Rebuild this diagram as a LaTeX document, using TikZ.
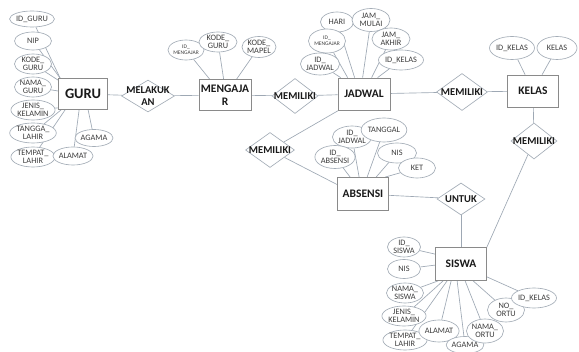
\documentclass[tikz,border=0pt]{standalone}
\usepackage{fontspec}
\setmainfont{Carlito}
\usetikzlibrary{shapes.geometric,calc}
\pgfdeclarelayer{paper}
\pgfdeclarelayer{links}
\pgfsetlayers{paper,links,main}

\definecolor{linkgray}{HTML}{9EA8B4}
\definecolor{ovalgray}{HTML}{A4ADB7}
\definecolor{boxgray}{HTML}{8A8A8A}
\definecolor{ink}{HTML}{1A1A1A}

\tikzset{
  entity/.style={draw=boxgray, fill=white, line width=0.75pt, minimum width=51pt,
    minimum height=32pt, inner sep=0pt, align=center, text=ink,
    font=\bfseries\fontsize{11.5}{13}\selectfont},
  relation/.style={diamond, draw=ovalgray, fill=white, line width=0.65pt,
    minimum width=48pt, minimum height=34pt, inner sep=0pt},
  rellabel/.style={text=ink, align=center, font=\bfseries\fontsize{10.5}{12.5}\selectfont},
  attr/.style={ellipse, draw=ovalgray, fill=white, line width=0.65pt,
    minimum width=37pt, minimum height=20pt, inner sep=0pt, align=center,
    text=ink!85, font=\fontsize{8.3}{8.4}\selectfont},
  tiny/.style={font=\fontsize{5.5}{6.5}\selectfont},
  link/.style={draw=linkgray, line width=0.65pt},
}

\begin{document}
\begin{tikzpicture}[x=1pt, y=-1pt]
\begin{pgfonlayer}{paper}
  \fill[white] (0,0) rectangle (579,352);
\end{pgfonlayer}
\useasboundingbox (0,0) rectangle (579,352);

% ---------- entities ----------
\node[entity, minimum width=49pt, minimum height=31pt, font=\bfseries\fontsize{14.5}{16}\selectfont] (guru) at (83,94) {GURU};
\node[entity, minimum width=52pt, minimum height=31pt] (mengajar) at (225,95) {MENGAJA\\R};
\node[entity, minimum width=52pt] (jadwal) at (364,94) {JADWAL};
\node[entity] (kelas) at (533,91) {KELAS};
\node[entity, minimum height=33pt] (absensi) at (363,194) {ABSENSI};
\node[entity, minimum height=33pt] (siswa) at (461,264) {SISWA};

% ---------- relationships ----------
\node[relation, minimum width=53pt, minimum height=32pt, label={[rellabel]center:{MELAKUK\\AN}}] (melakukan) at (148,96) {};
\node[relation, minimum width=46pt, minimum height=35pt, label={[rellabel]center:MEMILIKI}] (memA) at (295,96) {};
\node[relation, minimum width=51pt, minimum height=37pt, label={[rellabel]center:MEMILIKI}] (memB) at (462,92) {};
\node[relation, minimum width=46pt, minimum height=36pt, label={[rellabel]center:MEMILIKI}] (memC) at (534,141) {};
\node[relation, minimum width=49pt, minimum height=35pt, label={[rellabel]center:MEMILIKI}] (memD) at (270,150) {};
\node[relation, minimum width=48pt, minimum height=32pt, label={[rellabel]center:UNTUK}] (untuk) at (461,199) {};

% ---------- GURU attributes ----------
\node[attr, minimum height=16pt] (g1) at (32,19) {ID\_GURU};
\node[attr, minimum height=18pt] (g2) at (33,41) {NIP};
\node[attr] (g3) at (33,64) {KODE\_\\GURU};
\node[attr] (g4) at (33,87) {NAMA\_\\GURU};
\node[attr] (g5) at (33,110) {JENIS\_\\KELAMIN};
\node[attr] (g6) at (33,133) {TANGGA\_\\LAHIR};
\node[attr] (g7) at (33,157) {TEMPAT\_\\LAHIR};
\node[attr, minimum width=40pt, minimum height=18pt] (g8) at (73,156) {ALAMAT};
\node[attr, minimum width=38pt, minimum height=17pt] (g9) at (94,138) {AGAMA};

% ---------- MENGAJAR attributes ----------
\node[attr, minimum width=35pt, tiny] (m1) at (186,50) {ID\_\\MENGAJAR};
\node[attr, minimum width=38pt] (m2) at (218,42) {KODE\_\\GURU};
\node[attr, minimum width=34pt, minimum height=21pt] (m3) at (259,47) {KODE\_\\MAPEL};

% ---------- JADWAL attributes ----------
\node[attr, minimum width=33pt] (j1) at (337,22) {HARI};
\node[attr, minimum width=38pt, minimum height=23pt] (j2) at (371,20) {JAM\_\\MULAI};
\node[attr, minimum height=24pt, tiny] (j3) at (327,41) {ID\_\\MENGAJAR};
\node[attr, minimum width=38pt, minimum height=22pt] (j4) at (391,39) {JAM\_\\AKHIR};
\node[attr, minimum width=36pt, minimum height=22pt] (j5) at (320,64) {ID\_\\JADWAL};
\node[attr] (j6) at (401,60) {ID\_KELAS};

% ---------- KELAS attributes ----------
\node[attr, minimum width=40pt, minimum height=23pt] (k1) at (512,48) {ID\_KELAS};
\node[attr, minimum width=40pt, minimum height=23pt] (k2) at (557,48) {KELAS};

% ---------- ABSENSI attributes ----------
\node[attr, minimum width=36pt, minimum height=22pt] (a2) at (352,137) {ID\_\\JADWAL};
\node[attr, minimum width=38pt, minimum height=24pt] (a3) at (384,130) {TANGGAL};
\node[attr, minimum width=34pt, minimum height=23pt] (a1) at (335,157) {ID\_\\ABSENSI};
\node[attr, minimum width=39pt] (a4) at (397,153) {NIS};
\node[attr] (a5) at (417,168) {KET};

% ---------- SISWA attributes ----------
\node[attr, minimum width=33pt] (s1) at (404,247) {ID\_\\SISWA};
\node[attr, minimum width=33pt, minimum height=19pt] (s2) at (404,269) {NIS};
\node[attr, minimum width=34pt] (s3) at (405,293) {NAMA\_\\SISWA};
\node[attr, minimum width=35pt] (s4) at (404,316) {JENIS\_\\KELAMIN};
\node[attr, minimum width=32pt] (s5) at (405,340) {TEMPAT\_\\LAHIR};
\node[attr, minimum width=38pt, minimum height=22pt] (s6) at (439,331) {ALAMAT};
\node[attr, minimum width=36pt, minimum height=17pt] (s7) at (465,345) {AGAMA};
\node[attr, minimum width=34pt, minimum height=24pt] (s8) at (485,331) {NAMA\_\\ORTU};
\node[attr, minimum width=37pt, minimum height=24pt] (s9) at (506,310) {NO\_\\ORTU};
\node[attr, minimum width=34pt] (s10) at (534,298) {ID\_KELAS};

% ---------- connectors ----------
\begin{pgfonlayer}{links}
  % relationships
  \draw[link] (guru) -- (melakukan);
  \draw[link] (melakukan) -- (mengajar);
  \draw[link] (mengajar) -- (memA);
  \draw[link] (memA) -- (jadwal);
  \draw[link] (jadwal) -- (memB);
  \draw[link] (memB) -- (kelas);
  \draw[link] (kelas) -- (memC);
  \draw[link] (memC) -- (siswa.north east);
  \draw[link] ($(jadwal.south west)+(1,0)$) -- (memD);
  \draw[link] (memD) -- (absensi.160);
  \draw[link] (absensi) -- (untuk);
  \draw[link] (untuk) -- (siswa);

  % GURU attributes
  \draw[link] (g1) -- ($(guru.north west)+(2,0)$);
  \draw[link] (g2) -- ($(guru.north west)+(2,0)$);
  \draw[link] (g3) -- ($(guru.north west)+(0,2)$);
  \draw[link] (g4) -- ($(guru.west)+(0,-3)$);
  \draw[link] (g5) -- ($(guru.south west)+(0,-2)$);
  \draw[link] (g6) -- ($(guru.south west)+(3,0)$);
  \draw[link] (g7) -- ($(guru.south west)+(7,0)$);
  \draw[link] (g8) -- ($(guru.south west)+(21,0)$);
  \draw[link] (g9) -- ($(guru.south west)+(30,0)$);

  % MENGAJAR attributes
  \draw[link] (m1) -- ($(mengajar.north west)+(11,0)$);
  \draw[link] (m2) -- ($(mengajar.north west)+(25,0)$);
  \draw[link] (m3) -- ($(mengajar.north west)+(38,0)$);

  % JADWAL attributes
  \draw[link] (j5) -- ($(jadwal.north west)+(3,0)$);
  \draw[link] (j3) -- ($(jadwal.north west)+(10,0)$);
  \draw[link] (j1) -- ($(jadwal.north west)+(17,0)$);
  \draw[link] (j2) -- ($(jadwal.north west)+(25,0)$);
  \draw[link] (j4) -- ($(jadwal.north west)+(34,0)$);
  \draw[link] (j6) -- ($(jadwal.north west)+(40,0)$);

  % KELAS attributes
  \draw[link] (k1) -- ($(kelas.north west)+(18,0)$);
  \draw[link] (k2) -- ($(kelas.north west)+(35,0)$);

  % ABSENSI attributes
  \draw[link] (a1) -- ($(absensi.north west)+(13,0)$);
  \draw[link] (a2) -- ($(absensi.north west)+(22,0)$);
  \draw[link] (a3) -- ($(absensi.north west)+(30,0)$);
  \draw[link] (a4) -- ($(absensi.north west)+(39,0)$);
  \draw[link] (a5) -- ($(absensi.north west)+(48,0)$);

  % SISWA attributes
  \draw[link] (s1) -- ($(siswa.north west)+(0,7)$);
  \draw[link] (s2) -- ($(siswa.north west)+(0,18)$);
  \draw[link] (s3) -- ($(siswa.south west)+(3,0)$);
  \draw[link] (s4) -- ($(siswa.south west)+(8,0)$);
  \draw[link] (s5) -- ($(siswa.south west)+(12,0)$);
  \draw[link] (s6) -- ($(siswa.south west)+(16,0)$);
  \draw[link] (s7) -- ($(siswa.south west)+(22,0)$);
  \draw[link] (s8) -- ($(siswa.south west)+(30,0)$);
  \draw[link] (s9) -- ($(siswa.south west)+(38,0)$);
  \draw[link] (s10) -- ($(siswa.south east)+(0,-4)$);
\end{pgfonlayer}
\end{tikzpicture}
\end{document}
